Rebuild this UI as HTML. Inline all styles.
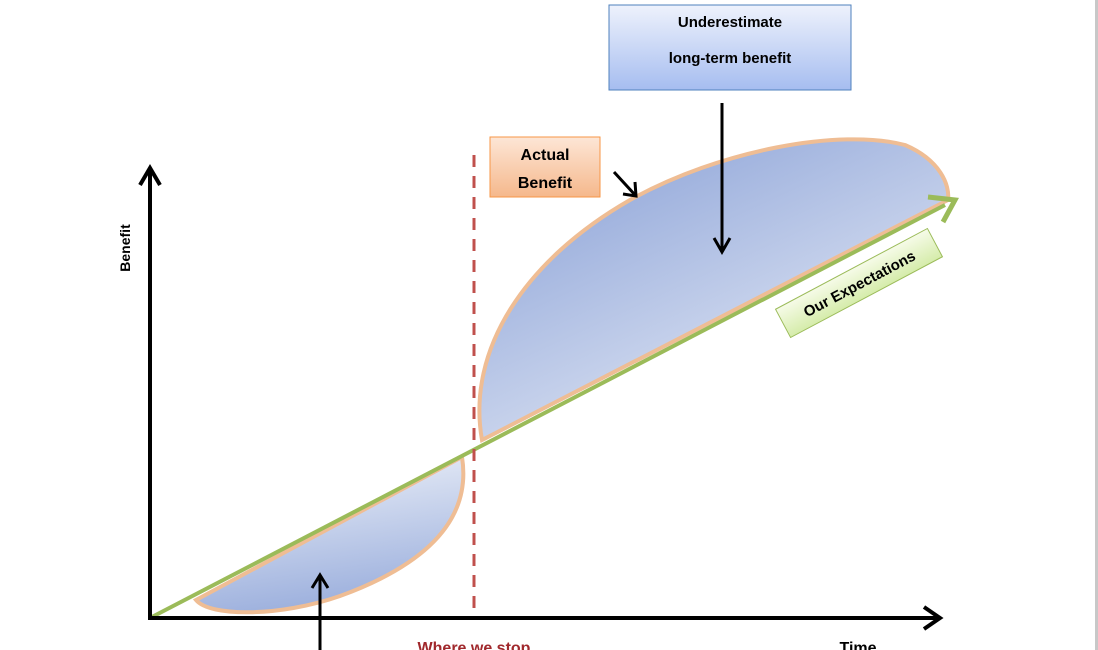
<!DOCTYPE html>
<html><head><meta charset="utf-8"><style>
body{margin:0;background:#fff;}
svg{display:block;font-family:"Liberation Sans",sans-serif;}
</style></head><body>
<svg width="1098" height="650" viewBox="0 0 1098 650" xmlns="http://www.w3.org/2000/svg">
<defs>
<linearGradient id="g1" x1="0.3" y1="0.2" x2="0.8" y2="0.9">
<stop offset="0" stop-color="#9fb2de"/><stop offset="1" stop-color="#e6ebf6"/></linearGradient>
<linearGradient id="g2" x1="0.6" y1="0.9" x2="0.4" y2="0.1">
<stop offset="0" stop-color="#9fb2de"/><stop offset="1" stop-color="#e2e8f5"/></linearGradient>
<linearGradient id="gb" x1="0" y1="0" x2="0" y2="1">
<stop offset="0" stop-color="#eef2fc"/><stop offset="1" stop-color="#a6bdf0"/></linearGradient>
<linearGradient id="go" x1="0" y1="0" x2="0" y2="1">
<stop offset="0" stop-color="#fde6d6"/><stop offset="1" stop-color="#f5b88c"/></linearGradient>
<linearGradient id="gg" x1="0" y1="0" x2="0" y2="1">
<stop offset="0" stop-color="#f6fbe8"/><stop offset="1" stop-color="#d5ecaa"/></linearGradient>
</defs>
<rect x="1095" y="0" width="3" height="650" fill="#c8c8c8"/>
<path d="M482,440 C466,350 525,260 630,200 C720,150 840,128 905,145 C940,160 950,185 948,200 L482,440 Z" fill="url(#g1)" stroke="#efbd94" stroke-width="4"/>
<path d="M196,600 C210,617 280,617 340,596 C425,565 472,520 462,457 L196,600 Z" fill="url(#g2)" stroke="#efbd94" stroke-width="4"/>
<line x1="150" y1="618" x2="945" y2="205" stroke="#9bbb59" stroke-width="4"/>
<polyline points="928,197 955,200 943,222" fill="none" stroke="#9bbb59" stroke-width="5"/>
<line x1="150" y1="620" x2="150" y2="168" stroke="#000" stroke-width="4"/>
<polyline points="140,185 150,168 160,185" fill="none" stroke="#000" stroke-width="4"/>
<line x1="148" y1="618" x2="940" y2="618" stroke="#000" stroke-width="4"/>
<polyline points="924,607 940,618 924,629" fill="none" stroke="#000" stroke-width="4"/>
<line x1="474" y1="155" x2="474" y2="612" stroke="#c0504d" stroke-width="3" stroke-dasharray="12,9"/>
<line x1="722" y1="103" x2="722" y2="252" stroke="#000" stroke-width="3"/>
<polyline points="714,238 722,252 730,238" fill="none" stroke="#000" stroke-width="3"/>
<line x1="614" y1="172" x2="636" y2="196" stroke="#000" stroke-width="3"/>
<polyline points="623,194 636,196 635,182" fill="none" stroke="#000" stroke-width="3"/>
<line x1="320" y1="650" x2="320" y2="575" stroke="#000" stroke-width="3"/>
<polyline points="312,588 320,575 328,588" fill="none" stroke="#000" stroke-width="3"/>
<rect x="609" y="5" width="242" height="85" fill="url(#gb)" stroke="#4f81bd" stroke-width="1"/>
<text x="730" y="27" font-size="15" font-weight="bold" text-anchor="middle">Underestimate</text>
<text x="730" y="63" font-size="15" font-weight="bold" text-anchor="middle">long-term benefit</text>
<rect x="490" y="137" width="110" height="60" fill="url(#go)" stroke="#f79646" stroke-width="1"/>
<text x="545" y="160" font-size="16" font-weight="bold" text-anchor="middle">Actual</text>
<text x="545" y="188" font-size="16" font-weight="bold" text-anchor="middle">Benefit</text>
<g transform="translate(859,283) rotate(-28)">
<rect x="-86" y="-16" width="172" height="32" fill="url(#gg)" stroke="#9bbb59" stroke-width="1"/>
<text x="0" y="6" font-size="15" font-weight="bold" text-anchor="middle">Our Expectations</text>
</g>
<text transform="translate(130,248) rotate(-90)" font-size="14" font-weight="bold" text-anchor="middle">Benefit</text>
<text x="474" y="653" font-size="16" font-weight="bold" fill="#a0282c" text-anchor="middle">Where we stop</text>
<text x="858" y="653" font-size="16" font-weight="bold" text-anchor="middle">Time</text>
</svg>
</body></html>
